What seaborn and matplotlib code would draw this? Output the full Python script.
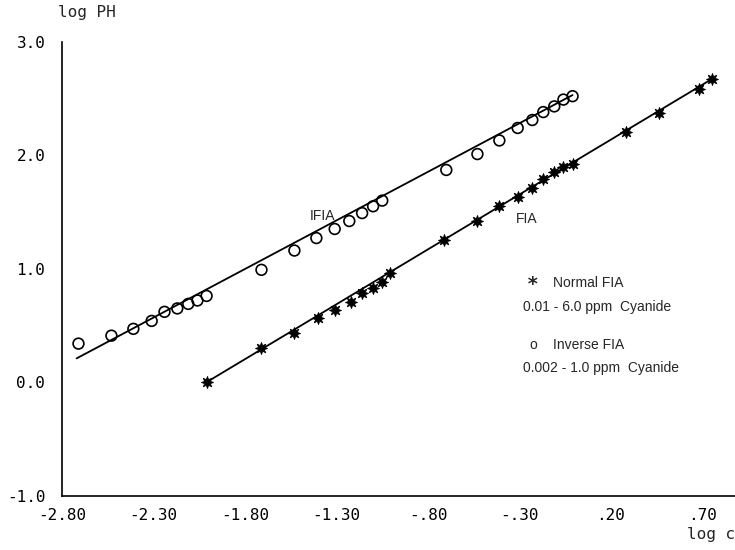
import matplotlib
matplotlib.use("Agg")
import matplotlib.pyplot as plt
import seaborn as sns
import pandas as pd

# ---- data ----
fia_logc = [-2.01, -1.71, -1.53, -1.40, -1.31, -1.22, -1.16, -1.10, -1.05, -1.01,
            -0.71, -0.53, -0.41, -0.31, -0.23, -0.17, -0.11, -0.06, -0.01,
            0.28, 0.46, 0.68, 0.75]
fia_logph = [0.00, 0.30, 0.43, 0.57, 0.64, 0.71, 0.79, 0.83, 0.88, 0.96,
             1.25, 1.42, 1.55, 1.63, 1.71, 1.79, 1.85, 1.90, 1.92,
             2.20, 2.37, 2.58, 2.67]

ifia_logc = [-2.71, -2.53, -2.41, -2.31, -2.24, -2.17, -2.11, -2.06, -2.01,
             -1.71, -1.53, -1.41, -1.31, -1.23, -1.16, -1.10, -1.05,
             -0.70, -0.53, -0.41, -0.31, -0.23, -0.17, -0.11, -0.06, -0.01]
ifia_logph = [0.34, 0.41, 0.47, 0.54, 0.62, 0.65, 0.69, 0.72, 0.76,
              0.99, 1.16, 1.27, 1.35, 1.42, 1.49, 1.55, 1.60,
              1.87, 2.01, 2.13, 2.24, 2.31, 2.38, 2.43, 2.49, 2.52]

fia_fit_x = [-2.01, 0.75]
fia_fit_y = [0.00, 2.67]
ifia_fit_x = [-2.72, -0.01]
ifia_fit_y = [0.21, 2.53]

x_ticks = [-2.8, -2.3, -1.8, -1.3, -0.8, -0.3, 0.2, 0.7]
x_ticklabels = ["-2.80", "-2.30", "-1.80", "-1.30", "-.80", "-.30", ".20", ".70"]
y_ticks = [-1.0, 0.0, 1.0, 2.0, 3.0]
y_ticklabels = ["-1.0", "0.0", "1.0", "2.0", "3.0"]

fia_df = pd.DataFrame({"logc": fia_logc, "logph": fia_logph})
ifia_df = pd.DataFrame({"logc": ifia_logc, "logph": ifia_logph})

# ---- style ----
sns.set_theme(style="white")
plt.rcParams["font.family"] = ["DejaVu Sans"]
mono = ["DejaVu Sans Mono"]
narrow = ["Liberation Sans", "DejaVu Sans"]

fig = plt.figure(figsize=(7.35, 5.5), dpi=100)
ax = fig.add_axes([62 / 735, 54.3 / 550, 3.75 * 183 / 735, 454 / 550])

# fit lines
sns.lineplot(x=ifia_fit_x, y=ifia_fit_y, ax=ax, color="black", linewidth=1.3, sort=False)
sns.lineplot(x=fia_fit_x, y=fia_fit_y, ax=ax, color="black", linewidth=1.3, sort=False)

# points
sns.scatterplot(data=ifia_df, x="logc", y="logph", ax=ax, marker="o", s=60,
                facecolors="none", edgecolor="black", linewidth=1.2, zorder=3)
sns.scatterplot(data=fia_df, x="logc", y="logph", ax=ax, marker=(8, 1, 0), s=75,
                color="black", edgecolor="black", linewidth=0.6, zorder=3)

ax.set_xlim(-2.8, 0.95)
ax.set_ylim(-1.0, 3.0)
ax.set_xticks(x_ticks)
ax.set_xticklabels(x_ticklabels, family=mono, fontsize=11.5)
ax.set_yticks(y_ticks)
ax.set_yticklabels(y_ticklabels, family=mono, fontsize=11.5)
ax.set_xlabel("")
ax.set_ylabel("")

for side in ("top", "right"):
    ax.spines[side].set_visible(False)
for side in ("left", "bottom"):
    ax.spines[side].set_color("black")
    ax.spines[side].set_linewidth(1.2)

ax.tick_params(axis="both", direction="in", length=4, width=1, colors="black")
ax.tick_params(axis="y", pad=12)
ax.tick_params(axis="x", pad=9)

# curve labels
ax.text(-1.379, 1.464, "IFIA", ha="center", va="center", family=narrow, fontsize=10)
ax.text(-0.259, 1.438, "FIA", ha="center", va="center", family=narrow, fontsize=10)

# legend-like annotations
ax.text(-0.226, 0.860, "*", ha="center", va="center", family=mono, fontsize=14,
        fontweight="bold")
ax.text(-0.117, 0.874, "Normal FIA", ha="left", va="center", family=narrow, fontsize=10)
ax.text(-0.281, 0.662, "0.01 - 6.0 ppm  Cyanide", ha="left", va="center", family=narrow,
        fontsize=10)
ax.text(-0.226, 0.327, "o", ha="center", va="center", family=narrow, fontsize=10)
ax.text(-0.117, 0.327, "Inverse FIA", ha="left", va="center", family=narrow, fontsize=10)
ax.text(-0.281, 0.125, "0.002 - 1.0 ppm  Cyanide", ha="left", va="center", family=narrow,
        fontsize=10)

# axis titles
fig.text(58 / 735, 1 - 13 / 550, "log PH", ha="left", va="center", family=mono, fontsize=11.5)
fig.text(687 / 735, 1 - 535 / 550, "log c", ha="left", va="center", family=mono, fontsize=11.5)

fig.savefig("out.png", dpi=100)
